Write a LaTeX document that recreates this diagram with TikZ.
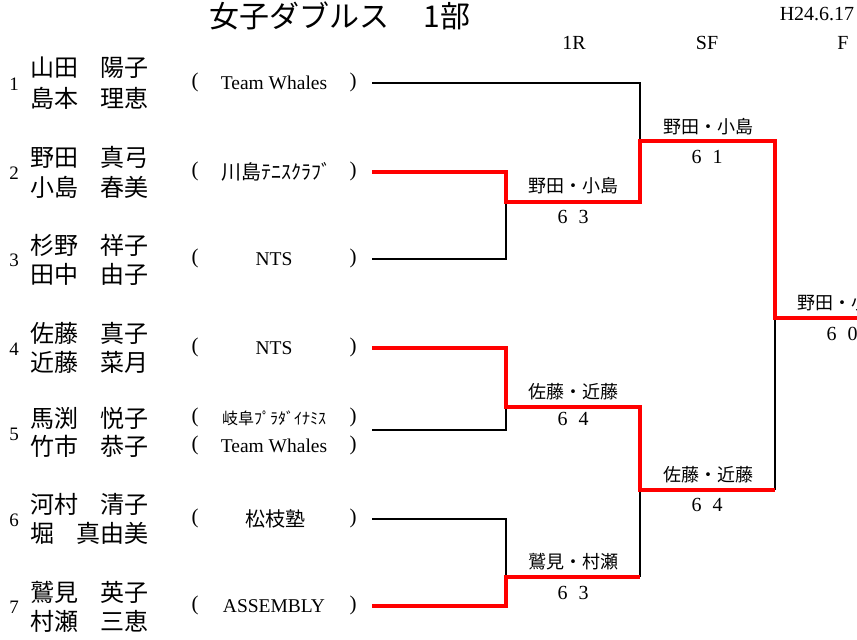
\documentclass[tikz,border=0pt]{standalone}
\usepackage{fontspec}
\setmainfont{Liberation Serif}
\newfontfamily\jp{Noto Sans CJK JP}
\definecolor{winred}{RGB}{255,0,0}
\newcommand{\pairline}[4]{\node[namest] (#1) at (30,#2) {\makebox[118pt][l]{#3\hfill#4}};}
\newcommand{\scr}[2]{#1\hspace{11pt}#2}
\begin{document}
\begin{tikzpicture}[x=1pt,y=-1pt,
  namest/.style={font=\jp\fontsize{24}{28}\selectfont, anchor=west, inner sep=0pt},
  numst/.style={font=\fontsize{19}{21}\selectfont, inner sep=0pt},
  parst/.style={font=\fontsize{21}{23}\selectfont, inner sep=0pt},
  clubst/.style={font=\fontsize{19.5}{22}\selectfont, inner sep=0pt},
  clubjp/.style={font=\jp\fontsize{20}{22}\selectfont, inner sep=0pt},
  winst/.style={font=\jp\fontsize{18}{20}\selectfont, inner sep=0pt},
  scorest/.style={font=\fontsize{20}{22}\selectfont, inner sep=0pt},
  headst/.style={font=\fontsize{20}{22}\selectfont, inner sep=0pt},
  loseline/.style={draw=black, line width=2pt},
  winline/.style={draw=winred, line width=4pt}]
\useasboundingbox (0,0) rectangle (857,640);
\clip (0,0) rectangle (857,640);

% title and headers
\node[font=\jp\fontsize{30}{34}\selectfont, inner sep=0pt] (title) at (340,16) {女子ダブルス\hspace{34pt}1部};
\node[headst] (date) at (817,14) {H24.6.17};
\node[headst] (h1r) at (574,43) {1R};
\node[headst] (hsf) at (707,43) {SF};
\node[headst] (hf) at (843,43) {F};

% entries
\node[numst] (k1) at (14,84) {1};
\pairline{n1a}{68}{山田}{陽子}
\pairline{n1b}{98}{島本}{理恵}
\node[parst] (lp1) at (195,82) {(};
\node[clubst] (c1) at (274,83) {Team Whales};
\node[parst] (rp1) at (353,82) {)};

\node[numst] (k2) at (14,173) {2};
\pairline{n2a}{157}{野田}{真弓}
\pairline{n2b}{187}{小島}{春美}
\node[parst] (lp2) at (195,171) {(};
\node[clubjp] (c2) at (276,172) {川島ﾃﾆｽｸﾗﾌﾞ};
\node[parst] (rp2) at (353,171) {)};

\node[numst] (k3) at (14,260) {3};
\pairline{n3a}{245}{杉野}{祥子}
\pairline{n3b}{274}{田中}{由子}
\node[parst] (lp3) at (195,258) {(};
\node[clubst] (c3) at (274,259) {NTS};
\node[parst] (rp3) at (353,258) {)};

\node[numst] (k4) at (14,349) {4};
\pairline{n4a}{333}{佐藤}{真子}
\pairline{n4b}{362}{近藤}{菜月}
\node[parst] (lp4) at (195,347) {(};
\node[clubst] (c4) at (274,348) {NTS};
\node[parst] (rp4) at (353,347) {)};

\node[numst] (k5) at (14,434) {5};
\pairline{n5a}{418}{馬渕}{悦子}
\pairline{n5b}{446}{竹市}{恭子}
\node[parst] (lp5a) at (195,417) {(};
\node[clubjp, font=\jp\fontsize{16}{18}\selectfont] (c5a) at (274,418) {岐阜ﾌﾟﾗﾀﾞｲﾅﾐｽ};
\node[parst] (rp5a) at (353,417) {)};
\node[parst] (lp5b) at (195,445) {(};
\node[clubst] (c5b) at (274,446) {Team Whales};
\node[parst] (rp5b) at (353,445) {)};

\node[numst] (k6) at (14,520) {6};
\pairline{n6a}{504}{河村}{清子}
\pairline{n6b}{533}{堀}{真由美}
\node[parst] (lp6) at (195,518) {(};
\node[clubjp] (c6) at (275,519) {松枝塾};
\node[parst] (rp6) at (353,518) {)};

\node[numst] (k7) at (14,607) {7};
\pairline{n7a}{592}{鷲見}{英子}
\pairline{n7b}{621}{村瀬}{三恵}
\node[parst] (lp7) at (195,605) {(};
\node[clubst] (c7) at (274,606) {ASSEMBLY};
\node[parst] (rp7) at (353,605) {)};

% bracket points
\coordinate (e1) at (372,83);
\coordinate (e2) at (372,172);
\coordinate (e3) at (372,259);
\coordinate (e4) at (372,348);
\coordinate (e5) at (372,430);
\coordinate (e6) at (372,519);
\coordinate (e7) at (372,606);
\coordinate (ra) at (506,202);
\coordinate (rb) at (506,407);
\coordinate (rc) at (506,577);
\coordinate (sa) at (640,141);
\coordinate (sb) at (640,490);
\coordinate (fm) at (775,318);
\coordinate (fend) at (880,318);

% losing lines
\draw[loseline] (e1) -| (sa);
\draw[loseline] (e3) -| (ra);
\draw[loseline] (e5) -| (rb);
\draw[loseline] (e6) -| (rc);
\draw[loseline] (rc -| sb) -- (sb);
\draw[loseline] (sb -| fm) -- (fm);

% winning lines
\draw[winline] (e2) -| (ra) -| (sa) -| (fm) -- (fend);
\draw[winline] (e4) -| (rb) -| (sb) -- (sb -| fm);
\draw[winline] (e7) -| (rc) -- (rc -| sb);

% winners and scores
\node[winst] (w1) at (573,186) {野田・小島};
\node[scorest] (s1) at (573,217) {\scr{6}{3}};
\node[winst] (w2) at (573,392) {佐藤・近藤};
\node[scorest] (s2) at (573,419) {\scr{6}{4}};
\node[winst] (w3) at (573,562) {鷲見・村瀬};
\node[scorest] (s3) at (573,593) {\scr{6}{3}};
\node[winst] (w4) at (708,127) {野田・小島};
\node[scorest] (s4) at (707,157) {\scr{6}{1}};
\node[winst] (w5) at (708,475) {佐藤・近藤};
\node[scorest] (s5) at (707,505) {\scr{6}{4}};
\node[winst] (w6) at (842,303) {野田・小島};
\node[scorest] (s6) at (842,334) {\scr{6}{0}};
\end{tikzpicture}
\end{document}
